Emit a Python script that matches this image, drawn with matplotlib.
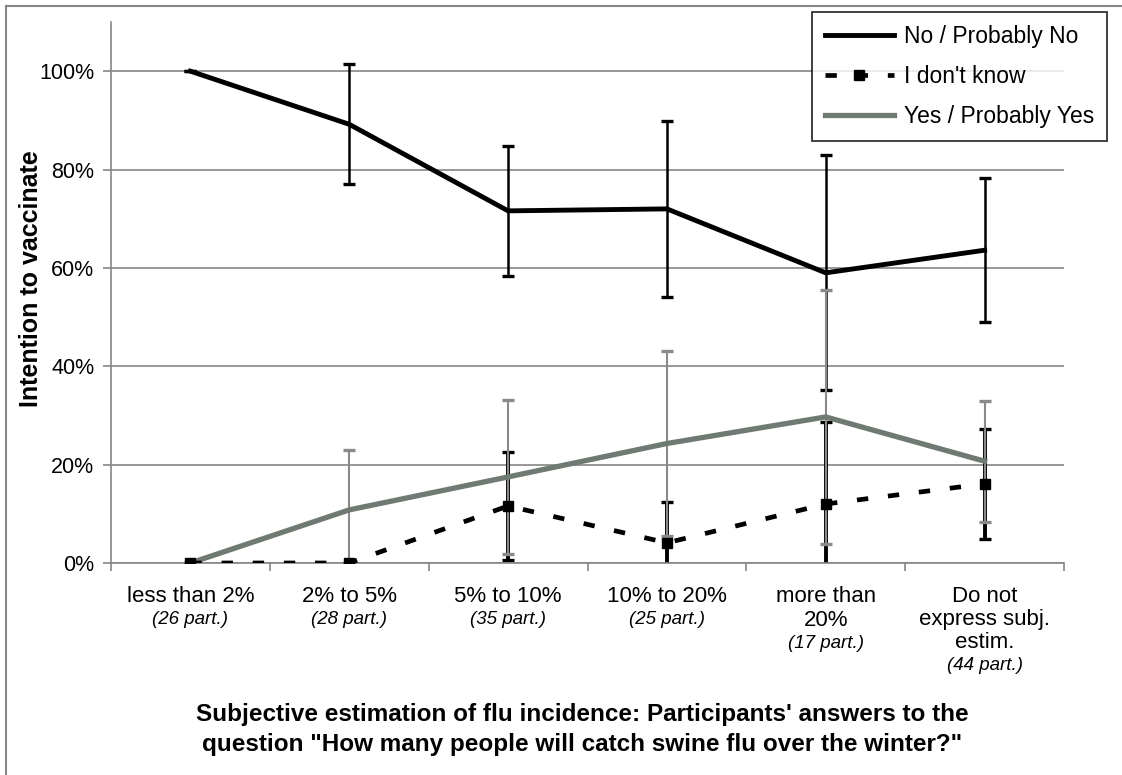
import numpy as np
import matplotlib
matplotlib.use("Agg")
import matplotlib.pyplot as plt
from matplotlib.lines import Line2D
from matplotlib.transforms import blended_transform_factory

plt.rcParams['font.family'] = ['Liberation Sans', 'DejaVu Sans']

# categories of subjective estimation + number of participants
categories = ["less than 2%", "2% to 5%", "5% to 10%", "10% to 20%",
              "more than\n20%", "Do not\nexpress subj.\nestim."]
participants = [26, 28, 35, 25, 17, 44]

# intention to vaccinate (%) and error bar half-widths
no_vals = [100, 89.2, 71.6, 72.0, 59.0, 63.6]
no_err = [0, 12.2, 13.2, 17.9, 23.9, 14.6]
idk_vals = [0, 0, 11.6, 4.1, 12.0, 16.1]
idk_err = [0, 0, 11.0, 8.4, 16.7, 11.2]
yes_vals = [0, 10.8, 17.5, 24.3, 29.7, 20.7]
yes_err = [0, 12.2, 15.6, 18.8, 25.8, 12.3]

W, H = 1122, 775
fig = plt.figure(figsize=(W / 100, H / 100), dpi=100)
ax = fig.add_axes([111 / W, 1 - 563 / H, (1064 - 111) / W, (563 - 22) / H])

x = np.arange(len(categories))
grid_col = '#868686'

# error bars first
ax.errorbar(x, no_vals, yerr=no_err, fmt='none', ecolor='black', elinewidth=1.8,
            capsize=4.5, capthick=2.4, zorder=2.5)
ax.errorbar(x, idk_vals, yerr=idk_err, fmt='none', ecolor='black', elinewidth=2.8,
            capsize=4.5, capthick=2.4, zorder=2.5)
ax.errorbar(x, yes_vals, yerr=yes_err, fmt='none', ecolor='#8a8a8a', elinewidth=1.5,
            capsize=4.5, capthick=2.4, zorder=2.6)

# lines
ax.plot(x, no_vals, color='black', lw=3.5, label='No / Probably No', zorder=3)
ax.plot(x, yes_vals, color='#6e7a72', lw=3.8, label='Yes / Probably Yes', zorder=3.2)
ax.plot(x, idk_vals, color='black', lw=3.4, dashes=(2.4, 4.2), dash_capstyle='butt',
        marker='s', markersize=7.5, label="I don't know", zorder=3.5)

ax.set_xlim(-0.5, len(categories) - 0.5)
ax.set_ylim(0, 110)
ax.set_yticks([0, 20, 40, 60, 80, 100])
ax.set_yticklabels(['0%', '20%', '40%', '60%', '80%', '100%'], fontsize=15.5)
ax.set_xticks(np.arange(len(categories) + 1) - 0.5)
ax.set_xticklabels([])
ax.tick_params(axis='both', direction='out', length=6, width=1.2, color=grid_col, pad=6)
ax.yaxis.grid(True, color=grid_col, lw=1.2)
ax.set_axisbelow(True)
for s in ['top', 'right']:
    ax.spines[s].set_visible(False)
for s in ['left', 'bottom']:
    ax.spines[s].set_color(grid_col)
    ax.spines[s].set_linewidth(1.2)

# category labels under the axis
trans = blended_transform_factory(ax.transData, fig.transFigure)
row_y = [597, 620, 643, 666]
for i, (name, n) in enumerate(zip(categories, participants)):
    lines = name.split('\n')
    for j, ln in enumerate(lines):
        ax.text(i, 1 - row_y[j] / H, ln, transform=trans, ha='center', va='center',
                fontsize=16)
    ax.text(i, 1 - row_y[len(lines)] / H, '(%d part.)' % n, transform=trans,
            ha='center', va='center', fontsize=13.5, style='italic')

# axis titles
fig.text(582 / W, 1 - 715 / H,
         "Subjective estimation of flu incidence: Participants' answers to the",
         ha='center', va='center', fontsize=17.5, fontweight='bold')
fig.text(582 / W, 1 - 745 / H,
         'question "How many people will catch swine flu over the winter?"',
         ha='center', va='center', fontsize=17.5, fontweight='bold')
fig.text(31 / W, 1 - 279 / H, 'Intention to vaccinate', rotation=90,
         ha='center', va='center', fontsize=18, fontweight='bold')

# legend
h, l = ax.get_legend_handles_labels()
order = [0, 2, 1]
leg = ax.legend([h[k] for k in order], [l[k] for k in order], loc='upper right',
                bbox_to_anchor=(1107 / W, 1 - 12 / H), bbox_transform=fig.transFigure,
                borderaxespad=0, fontsize=16.5, frameon=True, fancybox=False,
                handlelength=3.0, handletextpad=0.45, labelspacing=0.75,
                borderpad=0.55, numpoints=1)
leg.get_frame().set_edgecolor('black')
leg.get_frame().set_linewidth(1.3)

# outer chart border (top and left visible)
fig.add_artist(Line2D([6 / W, 1.0], [1 - 6 / H, 1 - 6 / H], color=grid_col, lw=1.5))
fig.add_artist(Line2D([6 / W, 6 / W], [0.0, 1 - 6 / H], color=grid_col, lw=1.5))

fig.savefig('out.png', dpi=100)
